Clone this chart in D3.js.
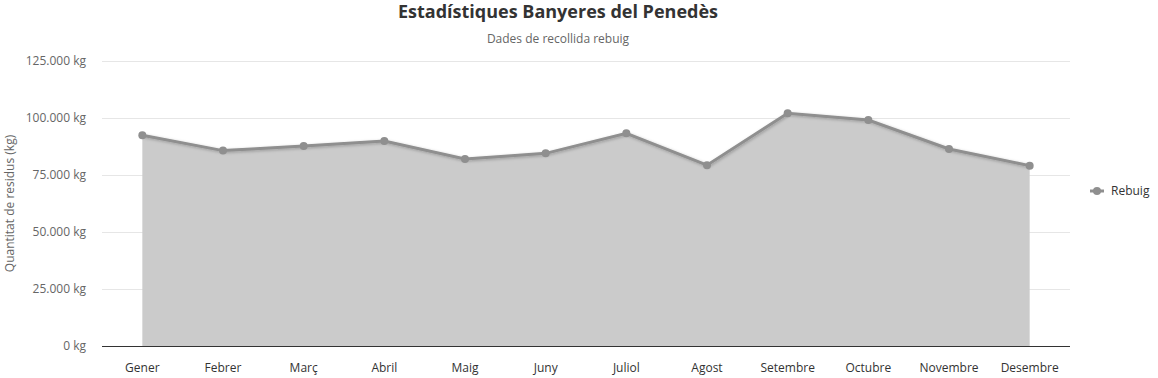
<!DOCTYPE html>
<html>
<head>
<meta charset="utf-8">
<script src="https://cdn.jsdelivr.net/npm/d3@7"></script>
<style>
  body { margin: 0; background: #fff; }
  svg { font-family: "Open Sans", "Noto Sans", sans-serif; }
</style>
</head>
<body>
<svg id="chart" width="1158" height="378"></svg>
<script>
"use strict";

// data
const months = ["Gener", "Febrer", "Març", "Abril", "Maig", "Juny", "Juliol",
                "Agost", "Setembre", "Octubre", "Novembre", "Desembre"];
const rebuig = [92400, 85700, 87700, 89900, 82000, 84500, 93300,
                79300, 102100, 99100, 86400, 79100];
const yTicks = [0, 25000, 50000, 75000, 100000, 125000];

const svg = d3.select("#chart");
const margin = {left: 102, right: 88, top: 61, bottom: 32};
const W = 1158, H = 378;

const x = d3.scaleBand().domain(months).range([margin.left, W - margin.right]);
const y = d3.scaleLinear().domain([0, 125000]).range([H - margin.bottom, margin.top]);

const fmt = v => d3.format(",")(v).replace(/,/g, ".") + " kg";

// title
svg.append("text").attr("x", 558).attr("y", 18).attr("text-anchor", "middle")
  .style("font-size", "18px").style("font-weight", "bold").style("fill", "#333")
  .text("Estadístiques Banyeres del Penedès");
svg.append("text").attr("x", 558).attr("y", 43).attr("text-anchor", "middle")
  .style("font-size", "12px").style("fill", "#666")
  .text("Dades de recollida rebuig");

// grid
svg.append("g").selectAll("line").data(yTicks.slice(1)).join("line")
  .attr("x1", margin.left).attr("x2", W - margin.right)
  .attr("y1", d => y(d) + 0.5).attr("y2", d => y(d) + 0.5)
  .attr("stroke", "#e6e6e6");

// y axis labels
svg.append("g").selectAll("text").data(yTicks).join("text")
  .attr("x", 86).attr("y", d => y(d) + 4).attr("text-anchor", "end")
  .style("font-size", "12px").style("fill", "#666").text(fmt);

svg.append("text")
  .attr("transform", `translate(14,${(y(0) + y(125000)) / 2}) rotate(-90)`)
  .attr("text-anchor", "middle").style("font-size", "12px").style("fill", "#666")
  .text("Quantitat de residus (kg)");

// shadow for line
const defs = svg.append("defs");
const f = defs.append("filter").attr("id", "shadow")
  .attr("x", "-5%").attr("y", "-50%").attr("width", "110%").attr("height", "200%");
f.append("feDropShadow").attr("dx", 1).attr("dy", 1).attr("stdDeviation", 1.5)
  .attr("flood-color", "#000").attr("flood-opacity", 0.25);

const cx = d => x(d) + x.bandwidth() / 2;

const area = d3.area().x((d, i) => cx(months[i])).y0(y(0)).y1(d => y(d));
svg.append("path").datum(rebuig).attr("d", area).attr("fill", "#cbcbcb");

const line = d3.line().x((d, i) => cx(months[i])).y(d => y(d));
svg.append("path").datum(rebuig).attr("d", line).attr("fill", "none")
  .attr("stroke", "#8f8f8f").attr("stroke-width", 3).attr("filter", "url(#shadow)");

svg.append("g").selectAll("circle").data(rebuig).join("circle")
  .attr("cx", (d, i) => cx(months[i])).attr("cy", d => y(d)).attr("r", 4)
  .attr("fill", "#8f8f8f");

// x axis
svg.append("line").attr("x1", margin.left).attr("x2", W - margin.right)
  .attr("y1", y(0) + 0.5).attr("y2", y(0) + 0.5).attr("stroke", "#333");

svg.append("g").selectAll("text").data(months).join("text")
  .attr("x", d => cx(d)).attr("y", 372).attr("text-anchor", "middle")
  .style("font-size", "12px").style("fill", "#333").text(d => d);

// legend
const lg = svg.append("g").attr("transform", "translate(1090,191)");
lg.append("line").attr("x1", 0).attr("x2", 14).attr("stroke", "#8f8f8f").attr("stroke-width", 3);
lg.append("circle").attr("cx", 7).attr("r", 4).attr("fill", "#8f8f8f");
lg.append("text").attr("x", 21).attr("y", 4).style("font-size", "12px").style("fill", "#333").text("Rebuig");
</script>
</body>
</html>
